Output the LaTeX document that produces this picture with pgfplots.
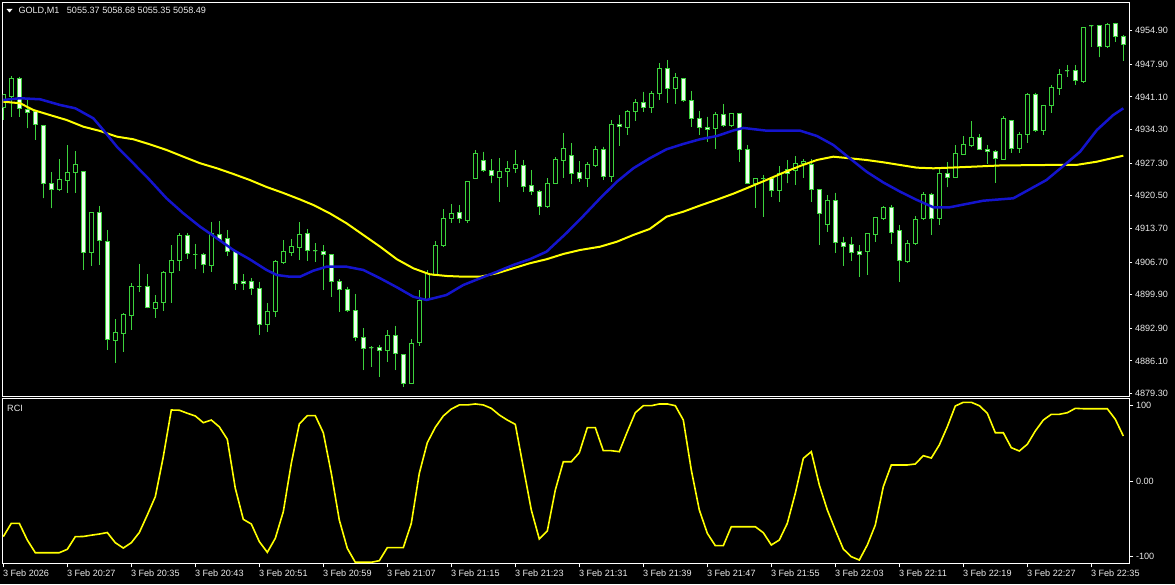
\documentclass[border=0pt]{standalone}
\usepackage{fontspec}
\setmainfont{Liberation Sans}
\usepackage{pgfplots}
\usepackage{pgfplotstable}
\pgfplotsset{compat=1.18}
\usepgfplotslibrary{statistics}

\definecolor{mtgreen}{RGB}{60,210,60}
\definecolor{mtwhite}{RGB}{240,255,240}
\definecolor{mtblue}{RGB}{20,20,205}
\definecolor{mtyellow}{RGB}{255,255,0}
\definecolor{mtlabel}{RGB}{235,235,235}

% GOLD M1 candles, one per minute, i = bar number
\pgfplotstableread{
i O H L C
0 4938.94 4941.50 4936.30 4941.50
1 4941.15 4945.46 4936.98 4944.98
2 4944.98 4945.32 4936.98 4938.65
3 4938.53 4940.46 4934.57 4937.90
4 4938.03 4938.38 4932.13 4935.40
5 4935.11 4935.25 4919.98 4922.96
6 4922.96 4925.40 4917.90 4921.86
7 4921.71 4928.11 4921.57 4923.80
8 4923.73 4931.09 4921.03 4925.40
9 4925.32 4929.84 4921.03 4926.92
10 4925.53 4925.53 4905.05 4908.65
11 4908.65 4917.07 4905.88 4917.07
12 4917.07 4918.38 4906.09 4911.15
13 4911.03 4913.38 4888.38 4890.61
14 4890.46 4894.78 4885.61 4892.07
15 4891.86 4896.03 4888.03 4895.67
16 4895.53 4902.28 4892.55 4901.71
17 4901.61 4906.30 4900.53 4901.61
18 4901.57 4904.21 4897.07 4897.28
19 4897.07 4899.84 4894.98 4898.32
20 4898.23 4904.90 4896.57 4904.57
21 4904.48 4910.25 4898.11 4906.92
22 4906.92 4912.82 4904.90 4912.13
23 4912.13 4912.69 4907.34 4908.53
24 4908.35 4910.46 4905.19 4908.35
25 4908.32 4908.65 4904.36 4906.09
26 4905.94 4915.11 4904.69 4912.55
27 4912.48 4915.25 4911.30 4911.50
28 4911.65 4913.38 4907.96 4909.00
29 4909.00 4909.21 4900.88 4902.28
30 4902.75 4904.15 4900.88 4902.19
31 4902.75 4903.32 4899.84 4901.23
32 4901.23 4902.61 4891.50 4893.73
33 4893.73 4898.11 4892.19 4896.50
34 4896.36 4907.13 4895.32 4906.78
35 4906.57 4911.30 4906.44 4908.86
36 4908.65 4911.44 4907.96 4909.90
37 4909.69 4915.11 4907.13 4912.34
38 4912.69 4913.53 4906.92 4909.07
39 4909.09 4910.61 4906.78 4909.09
40 4909.00 4910.25 4900.88 4908.32
41 4908.32 4908.32 4899.48 4902.61
42 4902.61 4903.11 4896.36 4901.03
43 4901.03 4901.57 4896.36 4896.57
44 4896.71 4900.05 4890.32 4891.03
45 4891.03 4892.90 4884.21 4888.73
46 4888.86 4889.21 4884.90 4888.86
47 4888.94 4889.42 4882.82 4888.23
48 4888.23 4892.55 4885.94 4891.30
49 4891.30 4893.38 4884.21 4887.55
50 4887.34 4887.55 4880.73 4881.44
51 4881.44 4890.61 4881.44 4889.78
52 4889.90 4900.88 4889.21 4898.65
53 4898.80 4905.05 4898.65 4904.36
54 4904.00 4911.15 4903.80 4910.25
55 4910.11 4917.69 4910.05 4915.82
56 4915.82 4918.80 4914.78 4916.86
57 4917.07 4918.59 4914.78 4915.82
58 4915.32 4923.59 4914.90 4923.44
59 4924.15 4930.05 4923.94 4929.36
60 4927.82 4929.69 4925.53 4925.73
61 4925.73 4928.11 4923.11 4924.63
62 4924.36 4928.32 4919.28 4925.53
63 4925.53 4927.82 4922.40 4926.23
64 4926.15 4930.05 4925.32 4927.07
65 4926.86 4927.96 4921.36 4922.40
66 4922.55 4925.88 4920.67 4921.36
67 4921.50 4921.71 4916.50 4918.23
68 4918.23 4924.15 4918.17 4923.11
69 4923.11 4928.53 4922.96 4927.96
70 4927.82 4933.53 4924.15 4930.40
71 4928.86 4931.44 4922.96 4925.19
72 4925.32 4927.75 4923.44 4924.15
73 4924.15 4927.55 4922.40 4927.07
74 4926.78 4930.88 4926.71 4930.25
75 4930.25 4930.73 4923.80 4924.48
76 4924.48 4936.30 4923.44 4935.25
77 4935.40 4937.34 4930.88 4934.90
78 4934.69 4938.38 4933.17 4938.11
79 4938.03 4940.61 4936.15 4939.98
80 4939.98 4942.19 4938.03 4938.94
81 4938.94 4942.34 4937.82 4941.71
82 4941.71 4948.23 4940.46 4947.07
83 4947.07 4948.80 4939.90 4942.90
84 4942.90 4946.03 4939.63 4945.19
85 4944.98 4945.05 4940.11 4940.32
86 4940.32 4942.34 4934.90 4936.65
87 4936.65 4938.17 4933.17 4934.78
88 4934.78 4936.98 4931.78 4934.36
89 4934.42 4938.03 4930.19 4937.48
90 4937.48 4939.63 4934.90 4935.11
91 4935.11 4937.75 4935.05 4937.69
92 4937.69 4937.75 4927.61 4930.19
93 4930.19 4931.09 4923.11 4923.11
94 4923.11 4924.15 4917.90 4924.15
95 4924.15 4924.84 4916.15 4924.15
96 4924.15 4924.42 4920.32 4921.57
97 4921.57 4926.71 4919.28 4925.19
98 4925.88 4927.96 4923.11 4925.05
99 4925.73 4928.80 4922.75 4927.28
100 4927.13 4928.11 4924.15 4927.61
101 4927.07 4928.11 4919.28 4921.86
102 4921.86 4921.92 4910.25 4916.86
103 4914.57 4920.67 4913.03 4919.42
104 4919.42 4921.15 4908.65 4910.82
105 4910.82 4911.98 4905.94 4909.90
106 4910.40 4911.98 4906.98 4908.73
107 4909.00 4910.25 4903.65 4908.32
108 4908.86 4912.75 4904.00 4912.69
109 4912.48 4916.15 4910.94 4915.94
110 4915.82 4918.38 4915.46 4918.11
111 4918.11 4918.59 4910.46 4912.90
112 4913.17 4914.42 4902.61 4906.92
113 4906.78 4911.30 4906.50 4910.46
114 4910.46 4916.30 4910.25 4915.46
115 4915.67 4921.36 4915.46 4920.82
116 4920.82 4921.15 4912.34 4915.82
117 4915.82 4926.23 4914.42 4925.19
118 4925.19 4927.48 4922.28 4924.36
119 4924.36 4931.09 4924.21 4929.21
120 4929.15 4932.96 4929.00 4931.09
121 4930.94 4936.15 4930.88 4932.69
122 4932.69 4933.32 4930.05 4930.19
123 4930.19 4931.09 4927.13 4929.69
124 4929.69 4930.05 4923.23 4928.32
125 4928.11 4937.13 4927.96 4936.65
126 4936.15 4936.30 4929.48 4930.40
127 4930.40 4933.86 4929.36 4933.17
128 4933.17 4941.86 4931.44 4941.65
129 4941.65 4941.98 4933.86 4934.00
130 4934.00 4939.42 4933.17 4939.21
131 4939.21 4943.59 4937.82 4943.11
132 4942.90 4946.86 4941.50 4945.82
133 4946.50 4947.75 4945.32 4946.50
134 4946.57 4947.75 4943.59 4944.42
135 4944.28 4955.67 4944.21 4955.61
136 4955.88 4956.09 4951.57 4955.88
137 4955.88 4955.98 4949.36 4951.57
138 4951.57 4956.57 4951.50 4956.09
139 4956.30 4956.57 4952.61 4953.65
140 4953.65 4954.00 4948.65 4952.07
}\candles

% fast moving average (blue)
\pgfplotstableread{
i v
0 4940.46
2.1 4940.82
4.6 4940.61
7.1 4939.42
9.0 4938.73
11.25 4936.65
12.5 4934.21
14.2 4930.73
16.25 4927.28
18.3 4923.80
20.4 4919.98
22.5 4916.86
24.6 4914.07
26.7 4911.65
28.75 4909.21
30.8 4907.28
32.9 4905.05
34.2 4904.00
35.8 4903.65
37.1 4903.65
38.75 4904.90
40.4 4905.73
42.9 4905.73
45 4905.05
47.1 4903.32
49.2 4901.44
51.25 4899.48
52.9 4898.80
55.4 4899.84
57.5 4901.92
59.6 4903.32
61.7 4904.69
63.75 4906.09
65.8 4907.28
67.9 4908.86
70.4 4912.75
72.5 4916.30
74.6 4919.98
76.7 4923.44
78.75 4926.23
80.8 4928.32
82.9 4930.19
85 4931.30
87.1 4932.28
89.2 4932.96
91.25 4934.11
92.5 4934.63
95.4 4934.07
99.6 4934.07
101.7 4932.96
103.75 4931.09
105.8 4928.32
107.9 4925.53
110 4923.28
112.1 4921.36
114.2 4919.63
116.25 4918.11
118.3 4918.11
120.4 4918.80
122.5 4919.48
126.25 4919.98
128.3 4921.86
130.4 4923.80
132.5 4926.71
134.6 4929.69
136.7 4934.21
138.75 4937.34
140 4938.73
}\mafast

% slow moving average (yellow)
\pgfplotstableread{
i v
0 4940.11
2.1 4939.78
3.75 4938.38
5.8 4937.34
7.9 4936.30
10 4934.90
12.1 4934.00
14.2 4932.82
16.25 4932.28
18.3 4931.23
20.4 4930.05
22.5 4928.65
24.6 4927.28
26.7 4926.23
28.75 4925.05
30.8 4923.80
32.9 4922.34
35 4921.09
37.1 4919.73
38.75 4918.59
40.8 4916.86
42.9 4914.78
45 4912.34
47.1 4909.90
49.2 4907.28
51.25 4905.40
53.3 4904.15
55.4 4903.80
57.5 4903.65
59.6 4903.65
61.7 4904.36
63.75 4905.40
65.8 4906.44
67.9 4907.28
70 4908.38
72.1 4909.21
74.6 4909.90
76.7 4910.94
78.75 4912.34
80.8 4913.59
82.9 4916.15
85 4917.19
87.1 4918.48
89.2 4919.69
91.25 4920.94
93.3 4922.34
95.4 4923.80
97.5 4925.32
99.6 4926.71
101.7 4927.96
103.75 4928.65
105.8 4928.32
107.9 4927.96
110 4927.48
112.1 4926.92
114.2 4926.36
116.25 4926.23
118.3 4926.36
121.25 4926.57
124.6 4926.82
130.4 4926.92
134.1 4926.92
136.7 4927.61
140 4928.86
}\maslow

% RCI oscillator
\pgfplotstableread{
i r
0 -73.5
1 -55.8
2 -55.8
3 -77.9
4 -94.7
5 -94.7
6 -94.7
7 -94.7
8 -90.2
9 -73.5
10 -73.2
11 -71.5
12 -70
13 -68
14 -81.5
15 -88.5
16 -81.5
17 -68
18 -44.8
19 -20.5
20 32.5
21 94.3
22 94
23 90
24 86.4
25 77.5
26 81
27 72
28 55.5
29 -9.4
30 -50.5
31 -56.7
32 -80
33 -94.2
34 -75.6
35 -40.4
36 23.7
37 75.8
38 86.8
39 86.8
40 64.2
41 10.5
42 -51.4
43 -88.9
44 -107.4
45 -107.4
46 -107.4
47 -105.3
48 -88
49 -88
50 -88
51 -55.8
52 10.5
53 51
54 71.4
55 86.4
56 95.6
57 101
58 101
59 102.3
60 101
61 96.5
62 87.7
63 81
64 75.3
65 18.4
66 -38.1
67 -76.6
68 -66
69 -11.7
70 25.8
71 25.8
72 37.7
73 70.9
74 70.9
75 40.4
76 40.4
77 39.1
78 65.6
79 90.7
80 100
81 100
82 102.3
83 102.3
84 100
85 81
86 14.8
87 -38.1
88 -69
89 -85.4
90 -85.4
91 -60.3
92 -60.3
93 -60.3
94 -60.3
95 -68.2
96 -84.5
97 -77.9
98 -55.8
99 -16
100 30.3
101 39.1
102 -5
103 -38.1
104 -64.6
105 -89.8
106 -100
107 -104.4
108 -84.5
109 -58
110 -7.3
111 21.5
112 21.5
113 21.5
114 22.8
115 33.8
116 30.7
117 48
118 72.2
119 99.6
120 104.5
121 104.5
122 100
123 90
124 64.2
125 64.2
126 44.4
127 40
128 48.9
129 66.5
130 81
131 88.6
132 88.6
133 90.7
134 96.5
135 96
136 96
137 96
138 96
139 82
140 59.9
}\rci

\pgfplotstablegetrowsof{\candles}
\pgfmathtruncatemacro\lastrow{\pgfplotsretval-1}

\pgfplotsset{
  mtpanel/.style={
    scale only axis, anchor=south west,
    width=1126.6pt,
    xmin=-0.075, xmax=140.75,
    axis line style={white, line width=1pt},
    tick style={white, line width=1pt},
    tick align=outside, major tick length=3pt,
    ytick pos=right, yticklabel pos=right,
    tick label style={font=\fontsize{9.1}{10}\selectfont, text=mtlabel},
    yticklabel style={anchor=west, inner sep=0pt, xshift=2.5pt},
  },
}

\begin{document}
\begin{tikzpicture}[x=1pt, y=1pt]
\fill[black] (0,0) rectangle (1175,584);
\useasboundingbox (0,0) rectangle (1175,584);

% price window
\begin{axis}[mtpanel,
  at={(2.7pt,187.3pt)}, height=394pt,
  ymin=4878.65, ymax=4960.73,
  xtick=\empty,
  ytick={4879.30,4886.10,4892.90,4899.90,4906.70,4913.70,4920.50,4927.30,4934.30,4941.10,4947.90,4954.90},
  yticklabels={4879.30,4886.10,4892.90,4899.90,4906.70,4913.70,4920.50,4927.30,4934.30,4941.10,4947.90,4954.90},
]
\pgfplotsforeachungrouped \k in {0,...,\lastrow}{%
  \pgfplotstablegetelem{\k}{i}\of\candles \let\cndI\pgfplotsretval
  \pgfplotstablegetelem{\k}{O}\of\candles \let\cndO\pgfplotsretval
  \pgfplotstablegetelem{\k}{H}\of\candles \let\cndH\pgfplotsretval
  \pgfplotstablegetelem{\k}{L}\of\candles \let\cndL\pgfplotsretval
  \pgfplotstablegetelem{\k}{C}\of\candles \let\cndC\pgfplotsretval
  \pgfmathsetmacro\cndT{max(\cndO,\cndC)}
  \pgfmathsetmacro\cndB{min(\cndO,\cndC)}
  \pgfmathtruncatemacro\cndUp{\cndC>\cndO ? 1 : 0}
  \ifnum\cndUp=1 \def\cndFill{black}\else\def\cndFill{mtwhite}\fi
  \edef\cndPlot{\noexpand\addplot[draw=mtgreen, fill=\cndFill, line width=1pt, forget plot,
    boxplot prepared={draw direction=y, draw position=\cndI,
      lower whisker=\cndL, lower quartile=\cndB, median=\cndB,
      upper quartile=\cndT, upper whisker=\cndH,
      box extend=0.5, whisker extend=0}] coordinates {};}
  \cndPlot
}
\addplot[mtyellow, line width=2pt] table[x=i, y=v]{\maslow};
\addplot[mtblue, line width=2.5pt] table[x=i, y=v]{\mafast};
\end{axis}

% RCI window
\begin{axis}[mtpanel,
  at={(2.7pt,20.7pt)}, height=164.6pt,
  ymin=-108.74, ymax=109.27,
  ytick={-100,0,100}, yticklabels={-100,0.00,100},
  xtick pos=left,
  xtick={0,8,...,136},
  xticklabels={3 Feb 2026,3 Feb 20:27,3 Feb 20:35,3 Feb 20:43,3 Feb 20:51,3 Feb 20:59,3 Feb 21:07,3 Feb 21:15,3 Feb 21:23,3 Feb 21:31,3 Feb 21:39,3 Feb 21:47,3 Feb 21:55,3 Feb 22:03,3 Feb 22:11,3 Feb 22:19,3 Feb 22:27,3 Feb 22:35},
  xticklabel style={anchor=north west, inner sep=0pt, xshift=-0.5pt, yshift=-2pt},
  major tick length=4pt,
]
\addplot[mtyellow, line width=1.6pt] table[x=i, y=r]{\rci};
\end{axis}

% window captions
\fill[white] (6.5,575) -- (12.5,575) -- (9.5,571.5) -- cycle;
\node[anchor=base west, inner sep=0pt, text=mtlabel, font=\fontsize{9.1}{10}\selectfont] at (18.3,570) {GOLD,M1};
\node[anchor=base west, inner sep=0pt, text=mtlabel, font=\fontsize{9.1}{10}\selectfont] at (66.7,570) {5055.37 5058.68 5055.35 5058.49};
\node[anchor=north west, inner sep=0pt, text=mtlabel, font=\fontsize{9.1}{10}\selectfont] at (7,179) {RCI};
\end{tikzpicture}
\end{document}
